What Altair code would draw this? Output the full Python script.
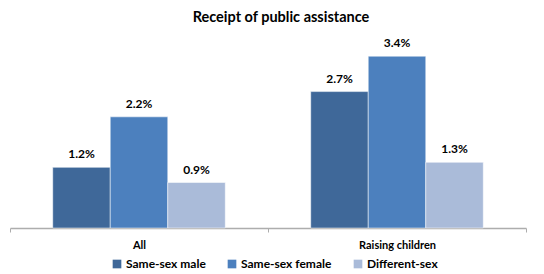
import altair as alt
import pandas as pd

categories = ["All", "Raising children"]
series = ["Same-sex male", "Same-sex female", "Different-sex"]
values = {
    "Same-sex male": [1.2, 2.7],
    "Same-sex female": [2.2, 3.4],
    "Different-sex": [0.9, 1.3],
}
colors = ["#3F6899", "#4C80BE", "#AABBD9"]

rows = []
for s in series:
    for c, v in zip(categories, values[s]):
        rows.append({"category": c, "series": s, "value": v, "label": f"{v:.1f}%"})
df = pd.DataFrame(rows)

FONT = "Lato"

base = alt.Chart(df).encode(
    x=alt.X("category:N", sort=categories, title=None,
            scale=alt.Scale(paddingInner=0, paddingOuter=0),
            axis=alt.Axis(labelAngle=0, labelFont=FONT, labelFontWeight="bold",
                          labelFontSize=11, labelColor="#000000", labelPadding=7,
                          domainColor="#ADADAD", domainWidth=1.5, tickColor="#ADADAD",
                          tickSize=4, tickBand="extent", bandPosition=0)),
    xOffset=alt.XOffset("series:N", sort=series,
                        scale=alt.Scale(paddingInner=0, paddingOuter=0.743)),
    y=alt.Y("value:Q", axis=None, scale=alt.Scale(domain=[0, 3.8], nice=False)),
)

bars = base.mark_bar(stroke="white", strokeWidth=0.5).encode(
    color=alt.Color("series:N", sort=series,
                    scale=alt.Scale(domain=series, range=colors),
                    legend=alt.Legend(title=None, orient="none", direction="horizontal",
                                      legendX=101, legendY=222,
                                      symbolType="square", symbolSize=75,
                                      symbolStrokeWidth=0, labelFont=FONT,
                                      labelFontSize=12, labelFontWeight="bold",
                                      labelColor="#000000", columnPadding=20,
                                      labelOffset=3, padding=0))
)

text = base.mark_text(baseline="bottom", dy=-6, font=FONT, fontSize=12,
                      fontWeight="bold", color="#000000").encode(text="label:N")

chart = (bars + text).properties(
    width=516, height=192,
    title=alt.TitleParams("Receipt of public assistance", font=FONT, fontSize=14.5,
                          fontWeight="bold", color="#000000", offset=11, dx=13),
    autosize=alt.AutoSizeParams(type="none"),
    padding={"left": 2, "top": 28, "right": 10, "bottom": 44},
).configure_view(stroke=None)

chart.save("out.html", embed_options={"renderer": "svg", "actions": False})
